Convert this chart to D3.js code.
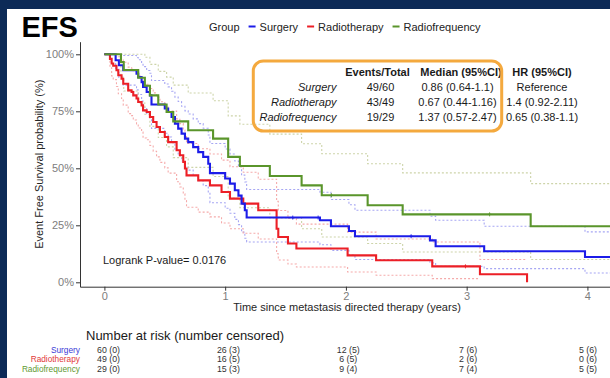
<!DOCTYPE html>
<html>
<head>
<meta charset="utf-8">
<script src="https://cdn.jsdelivr.net/npm/d3@7"></script>
<style>
  html, body { margin: 0; padding: 0; background: #ffffff; }
  svg { display: block; font-family: "Liberation Sans", Arial, sans-serif; }
</style>
</head>
<body>
<svg id="chart" width="610" height="378"></svg>
<script>
// ---------------- data ----------------
// Kaplan-Meier steps: time (years) at which the estimate changes, survival after it, 95% CI
const surgeryTime  = [0, 0.093, 0.12, 0.156, 0.266, 0.28, 0.308, 0.32, 0.35, 0.377, 0.39, 0.50, 0.528, 0.556, 0.584, 0.611, 0.639, 0.667, 0.694, 0.735, 0.777, 0.818, 0.86, 0.874, 1.0, 1.04, 1.08, 1.11, 1.136, 1.163, 1.178, 1.785, 1.876, 2.025, 2.075, 2.696, 2.743, 3.145, 3.98];
const surgerySurv  = [1, 0.974, 0.952, 0.93, 0.915, 0.90, 0.878, 0.857, 0.835, 0.82, 0.78, 0.762, 0.747, 0.725, 0.696, 0.674, 0.652, 0.63, 0.615, 0.593, 0.571, 0.55, 0.52, 0.479, 0.455, 0.433, 0.404, 0.38, 0.345, 0.316, 0.284, 0.272, 0.246, 0.225, 0.202, 0.184, 0.158, 0.136, 0.111];
const surgeryUpper = [1, 1, 1, 0.995, 0.986, 0.976, 0.961, 0.946, 0.929, 0.917, 0.885, 0.87, 0.857, 0.838, 0.812, 0.793, 0.772, 0.752, 0.738, 0.717, 0.696, 0.676, 0.646, 0.609, 0.585, 0.563, 0.532, 0.507, 0.47, 0.44, 0.407, 0.395, 0.363, 0.34, 0.316, 0.29, 0.272, 0.246, 0.221];
const surgeryLower = [1, 0.934, 0.898, 0.865, 0.844, 0.824, 0.795, 0.768, 0.741, 0.723, 0.675, 0.654, 0.637, 0.612, 0.58, 0.555, 0.532, 0.508, 0.492, 0.469, 0.446, 0.424, 0.394, 0.349, 0.325, 0.303, 0.276, 0.253, 0.22, 0.193, 0.177, 0.165, 0.14, 0.12, 0.10, 0.085, 0.07, 0.06, 0.041];

const radiotherapyTime  = [0, 0.046, 0.06, 0.073, 0.10, 0.115, 0.142, 0.156, 0.197, 0.225, 0.239, 0.266, 0.28, 0.308, 0.32, 0.35, 0.377, 0.404, 0.432, 0.46, 0.50, 0.528, 0.598, 0.625, 0.653, 0.667, 0.68, 0.777, 0.874, 0.97, 1.04, 1.15, 1.274, 1.426, 1.44, 1.52, 1.59, 2.014, 2.25, 2.715, 3.11, 3.50];
const radiotherapySurv  = [1, 0.98, 0.96, 0.95, 0.93, 0.908, 0.893, 0.871, 0.842, 0.835, 0.82, 0.806, 0.791, 0.776, 0.754, 0.747, 0.725, 0.703, 0.681, 0.659, 0.637, 0.615, 0.579, 0.557, 0.528, 0.499, 0.469, 0.447, 0.425, 0.396, 0.367, 0.345, 0.316, 0.235, 0.199, 0.17, 0.148, 0.118, 0.097, 0.07, 0.035, 0];
const radiotherapyUpper = [1, 1, 1, 1, 1, 0.989, 0.98, 0.965, 0.944, 0.939, 0.928, 0.917, 0.905, 0.893, 0.875, 0.869, 0.85, 0.831, 0.812, 0.792, 0.772, 0.751, 0.717, 0.696, 0.668, 0.639, 0.609, 0.586, 0.563, 0.536, 0.507, 0.483, 0.452, 0.355, 0.315, 0.28, 0.255, 0.22, 0.19, 0.177, 0.10, null];
const radiotherapyLower = [1, 0.941, 0.905, 0.889, 0.859, 0.827, 0.806, 0.777, 0.74, 0.731, 0.712, 0.695, 0.677, 0.659, 0.633, 0.625, 0.60, 0.575, 0.55, 0.526, 0.502, 0.479, 0.441, 0.418, 0.388, 0.359, 0.329, 0.308, 0.287, 0.26, 0.235, 0.215, 0.19, 0.125, 0.098, 0.08, 0.067, 0.045, 0.031, 0.016, null, null];

const radiofrequencyTime  = [0, 0.137, 0.16, 0.28, 0.335, 0.377, 0.446, 0.515, 0.57, 0.694, 0.90, 1.025, 1.122, 1.37, 1.633, 1.80, 2.18, 2.47, 3.53];
const radiofrequencySurv  = [1, 0.966, 0.931, 0.897, 0.862, 0.82, 0.78, 0.747, 0.706, 0.667, 0.63, 0.55, 0.51, 0.466, 0.425, 0.382, 0.338, 0.298, 0.246];
const radiofrequencyUpper = [1, 1, 1, 1, 0.987, 0.956, 0.925, 0.90, 0.865, 0.83, 0.796, 0.73, 0.693, 0.65, 0.608, 0.564, 0.52, 0.48, 0.433];
const radiofrequencyLower = [1, 0.90, 0.839, 0.786, 0.737, 0.684, 0.635, 0.594, 0.547, 0.504, 0.464, 0.37, 0.327, 0.282, 0.235, 0.199, 0.17, 0.133, 0.10];

// censoring times (years)
const surgeryCensor        = [1.56, 1.77, 2.54];
const radiotherapyCensor   = [2.99];
const radiofrequencyCensor = [1.88, 3.19];

// last follow-up time drawn for each group
const followUpEnd = [4.4, 3.50, 4.4];

const groupNames = ["Surgery", "Radiotherapy", "Radiofrequency"];

// number at risk (number censored)
const riskTimes             = [0, 1, 2, 3, 4];
const surgeryAtRisk         = [60, 26, 12, 7, 5];
const surgeryCensored       = [0, 3, 5, 6, 6];
const radiotherapyAtRisk    = [49, 16, 6, 2, 0];
const radiotherapyCensored  = [0, 5, 5, 6, 6];
const radiofrequencyAtRisk  = [29, 15, 9, 7, 5];
const radiofrequencyCensored= [0, 3, 4, 4, 5];

// summary table
const tableHeader = ["Events/Total", "Median (95%CI)", "HR (95%CI)"];
const tableEvents = ["49/60", "43/49", "19/29"];
const tableMedian = ["0.86 (0.64-1.1)", "0.67 (0.44-1.16)", "1.37 (0.57-2.47)"];
const tableHR     = ["Reference", "1.4 (0.92-2.11)", "0.65 (0.38-1.1)"];
const logrankP    = "0.0176";

const xTicks = [0, 1, 2, 3, 4];
const yTicks = [0, 0.25, 0.5, 0.75, 1];

// ---------------- styles ----------------
const lineColors = ["#1c1ce8", "#ec1f26", "#5a952b"];
const ciColors   = ["#a6a6f3", "#f5aaaa", "#cdd4a9"];
const riskLabelColors = ["#3a3ad6", "#e23a3a", "#5f9a32"];

const groups = [
  { time: surgeryTime, surv: surgerySurv, upper: surgeryUpper, lower: surgeryLower, censor: surgeryCensor,
    atRisk: surgeryAtRisk, censored: surgeryCensored },
  { time: radiotherapyTime, surv: radiotherapySurv, upper: radiotherapyUpper, lower: radiotherapyLower, censor: radiotherapyCensor,
    atRisk: radiotherapyAtRisk, censored: radiotherapyCensored },
  { time: radiofrequencyTime, surv: radiofrequencySurv, upper: radiofrequencyUpper, lower: radiofrequencyLower, censor: radiofrequencyCensor,
    atRisk: radiofrequencyAtRisk, censored: radiofrequencyCensored }
];

// ---------------- layout ----------------
const svg = d3.select("#chart");
const W = 610, H = 378;
const panel = { left: 80, right: 610, top: 41.7, bottom: 286.7 };

// year 0 sits 24 px inside the axis; 100% sits 12.6 px below the panel top
const x = d3.scaleLinear().domain([-0.2021, 4.187]).range([panel.left, panel.right]);
const y = d3.scaleLinear().domain([-0.0193, 1.0553]).range([panel.bottom, panel.top]);

// page background and the dark frame
svg.append("rect").attr("width", W).attr("height", H).attr("fill", "#ffffff");
svg.append("rect").attr("x", 0).attr("y", 0).attr("width", W).attr("height", 9).attr("fill", "#0c2a57");
svg.append("rect").attr("x", 0).attr("y", 0).attr("width", 7).attr("height", H).attr("fill", "#0c2a57");

// title
svg.append("text").attr("x", 21.5).attr("y", 36.5)
  .attr("font-size", 29).attr("font-weight", "bold").attr("fill", "#000").text("EFS");

// legend
const legend = svg.append("g").attr("font-size", 11).attr("fill", "#222");
let lx = 209;
const ly = 30.5;
const gTxt = legend.append("text").attr("x", lx).attr("y", ly).text("Group");
lx += gTxt.node().getComputedTextLength() + 9;
groupNames.forEach((name, i) => {
  legend.append("line").attr("x1", lx).attr("x2", lx + 7).attr("y1", ly - 4).attr("y2", ly - 4)
    .attr("stroke", lineColors[i]).attr("stroke-width", 2);
  lx += 11;
  const t = legend.append("text").attr("x", lx).attr("y", ly).text(name);
  lx += t.node().getComputedTextLength() + 9;
});

// clip for the curves
svg.append("clipPath").attr("id", "panelClip").append("rect")
  .attr("x", panel.left).attr("y", panel.top - 5).attr("width", panel.right - panel.left).attr("height", panel.bottom - panel.top + 5);

// step paths
function stepPoints(times, vals, tEnd) {
  const pts = [];
  times.forEach((t, i) => {
    const v = vals[i];
    if (v == null) {
      if (i > 0 && vals[i - 1] != null) pts.push([t, vals[i - 1]]);
      pts.push([t, null]);
      return;
    }
    pts.push([t, v]);
  });
  const last = vals[vals.length - 1];
  if (last != null && tEnd > times[times.length - 1]) pts.push([tEnd, last]);
  return pts;
}
const stepLine = d3.line()
  .defined(d => d[1] != null)
  .x(d => x(d[0]))
  .y(d => y(d[1]))
  .curve(d3.curveStepAfter);

const plot = svg.append("g").attr("clip-path", "url(#panelClip)");

// confidence bands as dotted steps
groups.forEach((g, i) => {
  [g.upper, g.lower].forEach(vals => {
    plot.append("path")
      .attr("d", stepLine(stepPoints(g.time, vals, followUpEnd[i])))
      .attr("fill", "none").attr("stroke", ciColors[i]).attr("stroke-width", 1.1)
      .attr("stroke-dasharray", "2,2");
  });
});

// survival curves
const drawOrder = [1, 0, 2];
drawOrder.forEach(i => {
  const g = groups[i];
  plot.append("path")
    .attr("d", stepLine(stepPoints(g.time, g.surv, followUpEnd[i])))
    .attr("fill", "none").attr("stroke", lineColors[i]).attr("stroke-width", 2.1);
});

// censoring ticks
function survAt(times, vals, t) {
  let v = vals[0];
  times.forEach((tt, k) => { if (tt <= t) v = vals[k]; });
  return v;
}
groups.forEach((g, i) => {
  g.censor.forEach(t => {
    const cx = x(t), cy = y(survAt(g.time, g.surv, t));
    plot.append("path")
      .attr("d", `M${cx},${cy - 2}V${cy + 2}M${cx - 1.5},${cy}H${cx + 1.5}`)
      .attr("stroke", lineColors[i]).attr("stroke-width", 0.9);
  });
});

// axes
const axisColor = "#333333";
const yAxis = svg.append("g").attr("transform", `translate(${panel.left},0)`)
  .call(d3.axisLeft(y).tickValues(yTicks).tickFormat(d3.format(".0%")).tickSize(4).tickSizeOuter(0));
const xAxis = svg.append("g").attr("transform", `translate(0,${panel.bottom})`)
  .call(d3.axisBottom(x).tickValues(xTicks).tickFormat(d3.format("d")).tickSize(4).tickSizeOuter(0));
[yAxis, xAxis].forEach(a => {
  a.select(".domain").attr("stroke", axisColor).attr("stroke-width", 1);
  a.selectAll(".tick line").attr("stroke", axisColor).attr("stroke-width", 1);
  a.selectAll(".tick text").attr("fill", "#7d7d7d").attr("font-size", 11)
    .attr("font-family", "\"Liberation Sans\", Arial, sans-serif");
});
yAxis.selectAll(".tick text").attr("x", -6);
xAxis.selectAll(".tick text").attr("y", 6);

svg.append("text")
  .attr("transform", `translate(43,${(panel.top + panel.bottom) / 2}) rotate(-90)`)
  .attr("text-anchor", "middle").attr("font-size", 11).attr("fill", "#262626")
  .text("Event Free Survival probability (%)");
svg.append("text")
  .attr("x", (panel.left + panel.right) / 2 + 2).attr("y", 311)
  .attr("text-anchor", "middle").attr("font-size", 11).attr("fill", "#262626")
  .text("Time since metastasis directed therapy (years)");

// log-rank annotation
svg.append("text").attr("x", 103).attr("y", 264).attr("font-size", 11).attr("fill", "#1a1a1a")
  .text("Logrank P-value= " + logrankP);

// summary table
const tbl = svg.append("g").attr("font-size", 11).attr("fill", "#1a1a1a");
const colX = [377.5, 457.5, 542];
const rowY0 = 75.5, rowStep = 15;
tableHeader.forEach((h, j) => {
  tbl.append("text").attr("x", j === 1 ? colX[j] + 3.5 : colX[j]).attr("y", rowY0).attr("text-anchor", "middle")
    .attr("font-weight", "bold").text(h);
});
groupNames.forEach((name, r) => {
  const ry = rowY0 + rowStep * (r + 1);
  tbl.append("text").attr("x", 336.5).attr("y", ry).attr("text-anchor", "end")
    .attr("font-style", "italic").text(name);
  tbl.append("text").attr("x", colX[0] + 3).attr("y", ry).attr("text-anchor", "middle").text(tableEvents[r]);
  tbl.append("text").attr("x", colX[1]).attr("y", ry).attr("text-anchor", "middle").text(tableMedian[r]);
  tbl.append("text").attr("x", colX[2]).attr("y", ry).attr("text-anchor", "middle").text(tableHR[r]);
});
svg.append("rect").attr("x", 253.3).attr("y", 61).attr("width", 248.4).attr("height", 70)
  .attr("rx", 10).attr("ry", 10)
  .attr("fill", "none").attr("stroke", "#f4a93e").attr("stroke-width", 3);

// number at risk table
svg.append("text").attr("x", 86).attr("y", 339.5).attr("font-size", 13).attr("fill", "#1a1a1a")
  .text("Number at risk (number censored)");
const riskX = d3.scaleLinear().domain([0, 4]).range([108.5, 588]);
const riskRowY = [352.6, 362.2, 371.8];
groups.forEach((g, r) => {
  svg.append("text").attr("x", 80).attr("y", riskRowY[r]).attr("text-anchor", "end")
    .attr("font-size", 8.3).attr("fill", riskLabelColors[r]).text(groupNames[r]);
  riskTimes.forEach((t, k) => {
    svg.append("text").attr("x", riskX(t)).attr("y", riskRowY[r]).attr("text-anchor", "middle")
      .attr("font-size", 8.8).attr("fill", "#333")
      .text(`${g.atRisk[k]} (${g.censored[k]})`);
  });
});
</script>
</body>
</html>
